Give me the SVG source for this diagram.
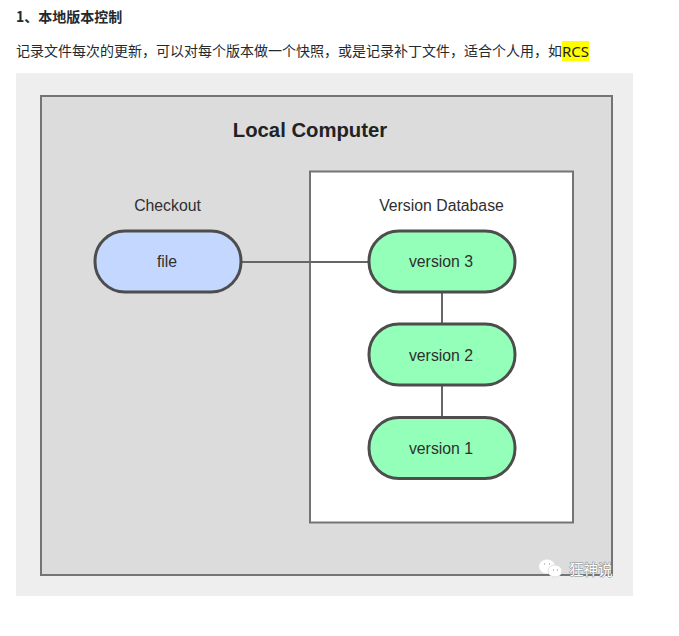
<svg xmlns="http://www.w3.org/2000/svg" width="679" height="636" viewBox="0 0 679 636">
<style>
text{font-family:"Liberation Sans",Arial,"Noto Sans CJK SC",sans-serif}
.cn{font-family:"Noto Sans CJK SC","Liberation Sans",sans-serif;font-size:14px;fill:#24292e}
.lab{font-size:15.800px;fill:#2f2f2f;text-anchor:middle}
.pill{stroke:#4d4d4d;stroke-width:3}
.g{fill:#94ffb8}
.line{stroke:#666;stroke-width:2;fill:none}
</style>
<rect width="679" height="636" fill="#fff"/>
<text class="cn" x="16" y="21.500" style="font-weight:700">1、本地版本控制</text>
<text class="cn" x="16" y="56" textLength="546" lengthAdjust="spacing">记录文件每次的更新，可以对每个版本做一个快照，或是记录补丁文件，适合个人用，如</text>
<rect x="562" y="41" width="27" height="20" fill="#ffff00"/>
<text x="562" y="56.500" style="font-family:'Noto Sans',sans-serif;font-size:15px;fill:#222" textLength="27" lengthAdjust="spacingAndGlyphs">RCS</text>
<rect x="16" y="73" width="617" height="523" fill="#eeeeee"/>
<g id="local-computer">
<rect x="41" y="96" width="571" height="479" fill="#dcdcdc" stroke="#747474" stroke-width="2"/>
<text x="310" y="136.500" text-anchor="middle" style="font-size:20.300px;font-weight:700;fill:#222">Local Computer</text>
</g>
<g id="version-database">
<rect x="310" y="171.500" width="263" height="351" fill="#fff" stroke="#747474" stroke-width="2"/>
<text class="lab" x="441.500" y="211">Version Database</text>
</g>
<g id="connectors">
<path class="line" d="M241 262H369M442 293V324M442 386V417"/>
</g>
<g id="checkout"><text class="lab" x="167.500" y="211">Checkout</text></g>
<g id="file">
<rect class="pill" x="95" y="231" width="146" height="61" rx="30" fill="#c4d8ff"/>
<text class="lab" x="167" y="267">file</text>
</g>
<g id="version3">
<rect class="pill g" x="369" y="231" width="146" height="61" rx="30"/>
<text class="lab" x="441" y="267">version 3</text>
</g>
<g id="version2">
<rect class="pill g" x="369" y="324" width="146" height="61" rx="30"/>
<text class="lab" x="441" y="361">version 2</text>
</g>
<g id="version1">
<rect class="pill g" x="369" y="417.500" width="146" height="61" rx="30"/>
<text class="lab" x="441" y="454">version 1</text>
</g>
<g id="watermark">
<ellipse cx="547" cy="566.500" rx="8" ry="7" fill="#fff"/>
<ellipse cx="555" cy="571" rx="7" ry="6" fill="#fff" stroke="#d8d8d8" stroke-width=".8"/>
<path d="M544 564h1M549 564h1M553 570h1M557 570h1" stroke="#888" stroke-width="1.200"/>
<text x="569" y="574.500" style="font-family:'Noto Sans CJK SC',sans-serif;font-size:14.500px;fill:#fff;stroke:#8a8a8a;stroke-width:1;paint-order:stroke">狂神说</text>
</g>
</svg>
